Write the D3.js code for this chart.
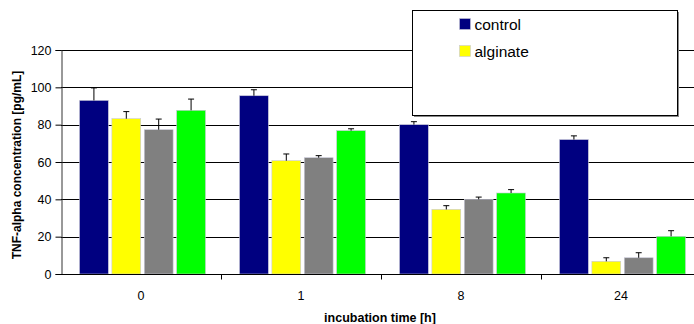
<!DOCTYPE html>
<html>
  <head>
    <meta charset="UTF-8" />
    <script src="https://d3js.org/d3.v7.min.js"></script>
    <style>
      body { margin: 0; background: #fff; }
      text { font-family: "Liberation Sans", Arial, sans-serif; }
    </style>
  </head>
  <body>
    <svg width="694" height="324"></svg>
    <script>
      // data
      const categories = ["0", "1", "8", "24"]
      const series = ["control", "alginate", "s3", "s4"]
      const colors = ["#000080", "#ffff00", "#808080", "#00ff00"]
      const legendSeries = ["control", "alginate"]
      const control = [93, 95.5, 80, 72]
      const alginate = [83.2, 60.7, 34.6, 6.8]
      const s3 = [77.3, 62.3, 40, 8.7]
      const s4 = [87.7, 76.8, 43.4, 20.2]
      const errControl = [6.7, 3.2, 1.6, 2]
      const errAlginate = [3.8, 3.6, 2, 1.9]
      const errS3 = [5.7, 1.1, 1.2, 2.7]
      const errS4 = [6, 1, 1.8, 3]
      const yTicks = [0, 20, 40, 60, 80, 100, 120]

      const values = [control, alginate, s3, s4]
      const errs = [errControl, errAlginate, errS3, errS4]

      const marge = { top: 50, left: 61, right: -7, bottom: 50 }
      const svg = d3.select("svg")
      const width = +svg.attr("width")
      const height = +svg.attr("height")
      const plotW = width - marge.left - marge.right
      const plotH = height - marge.top - marge.bottom

      const g = svg.append("g").attr("transform", `translate(${marge.left},${marge.top})`)

      const x0 = d3.scaleBand().domain(categories).range([0, plotW])
      const x1 = d3.scaleBand().domain(series).range([18.5, x0.bandwidth() - 15.5]).paddingInner(0.11)
      const y = d3.scaleLinear().domain([0, 120]).range([plotH, 0])

      // gridlines
      g.append("g")
        .selectAll("line")
        .data(yTicks.filter((d) => d > 0))
        .enter()
        .append("line")
        .attr("x1", 0)
        .attr("x2", plotW)
        .attr("y1", (d) => Math.round(y(d)) + 0.5)
        .attr("y2", (d) => Math.round(y(d)) + 0.5)
        .attr("stroke", "#000")

      // bars
      const rows = []
      categories.forEach((c, i) => {
        series.forEach((s, j) => {
          rows.push({ c, s, v: values[j][i], e: errs[j][i], color: colors[j] })
        })
      })

      const bars = g.append("g").selectAll("g").data(rows).enter().append("g")
      bars.append("rect")
        .attr("x", (d) => x0(d.c) + x1(d.s))
        .attr("y", (d) => y(d.v))
        .attr("width", x1.bandwidth())
        .attr("height", (d) => plotH - y(d.v))
        .attr("fill", (d) => d.color)
        .attr("stroke", "#c8c8d8")
        .attr("stroke-width", 0.6)

      // error bars (upper only)
      const cap = 3
      bars.append("line")
        .attr("x1", (d) => x0(d.c) + x1(d.s) + x1.bandwidth() / 2)
        .attr("x2", (d) => x0(d.c) + x1(d.s) + x1.bandwidth() / 2)
        .attr("y1", (d) => y(d.v))
        .attr("y2", (d) => y(d.v + d.e))
        .attr("stroke", "#000")
      bars.append("line")
        .attr("x1", (d) => x0(d.c) + x1(d.s) + x1.bandwidth() / 2 - cap)
        .attr("x2", (d) => x0(d.c) + x1(d.s) + x1.bandwidth() / 2 + cap)
        .attr("y1", (d) => y(d.v + d.e))
        .attr("y2", (d) => y(d.v + d.e))
        .attr("stroke", "#000")

      // y axis
      const yAxis = d3.axisLeft(y).tickValues(yTicks).tickSize(6).tickPadding(4)
      const ya = g.append("g").attr("transform", "translate(0.5,0)").call(yAxis)
      ya.select(".domain").attr("stroke", "#333")
      ya.selectAll("text").attr("font-size", 12.5).attr("fill", "#000")

      // x axis: ticks at category boundaries
      const xa = g.append("g").attr("transform", `translate(0,${plotH + 0.5})`)
      xa.append("line").attr("x1", 0).attr("x2", plotW).attr("stroke", "#000")
      xa.selectAll(".tk")
        .data(categories.slice(1))
        .enter()
        .append("line")
        .attr("x1", (d) => Math.round(x0(d)) + 0.5)
        .attr("x2", (d) => Math.round(x0(d)) + 0.5)
        .attr("y1", 0)
        .attr("y2", 5)
        .attr("stroke", "#000")
      xa.selectAll(".lbl")
        .data(categories)
        .enter()
        .append("text")
        .attr("x", (d) => x0(d) + x0.bandwidth() / 2)
        .attr("y", 25)
        .attr("text-anchor", "middle")
        .attr("font-size", 12.5)
        .text((d) => d)

      // axis titles
      svg.append("text")
        .attr("x", marge.left + plotW / 2 - 1)
        .attr("y", 322)
        .attr("text-anchor", "middle")
        .attr("font-size", 12.5)
        .attr("font-weight", "bold")
        .text("incubation time [h]")
      svg.append("text")
        .attr("transform", `translate(21,${marge.top + plotH / 2 + 3}) rotate(-90)`)
        .attr("text-anchor", "middle")
        .attr("font-size", 12)
        .attr("font-weight", "bold")
        .text("TNF-alpha concentration [pg/mL]")

      // legend
      const lg = svg.append("g").attr("transform", "translate(412.5,10.5)")
      lg.append("rect").attr("x", 1.5).attr("y", 1.5).attr("width", 265).attr("height", 105).attr("fill", "#888")
      lg.append("rect").attr("width", 265).attr("height", 105).attr("fill", "#fff").attr("stroke", "#000")
      const items = lg.selectAll(".it").data(legendSeries).enter().append("g")
        .attr("transform", (d, i) => `translate(47,${8 + i * 27})`)
      items.append("rect")
        .attr("width", 11)
        .attr("height", 11)
        .attr("fill", (d, i) => colors[i])
        .attr("stroke", "#c8c8d8")
        .attr("stroke-width", 0.6)
      items.append("text")
        .attr("x", 15)
        .attr("y", 11.5)
        .attr("font-size", 15.5)
        .text((d) => d)
    </script>
  </body>
</html>
